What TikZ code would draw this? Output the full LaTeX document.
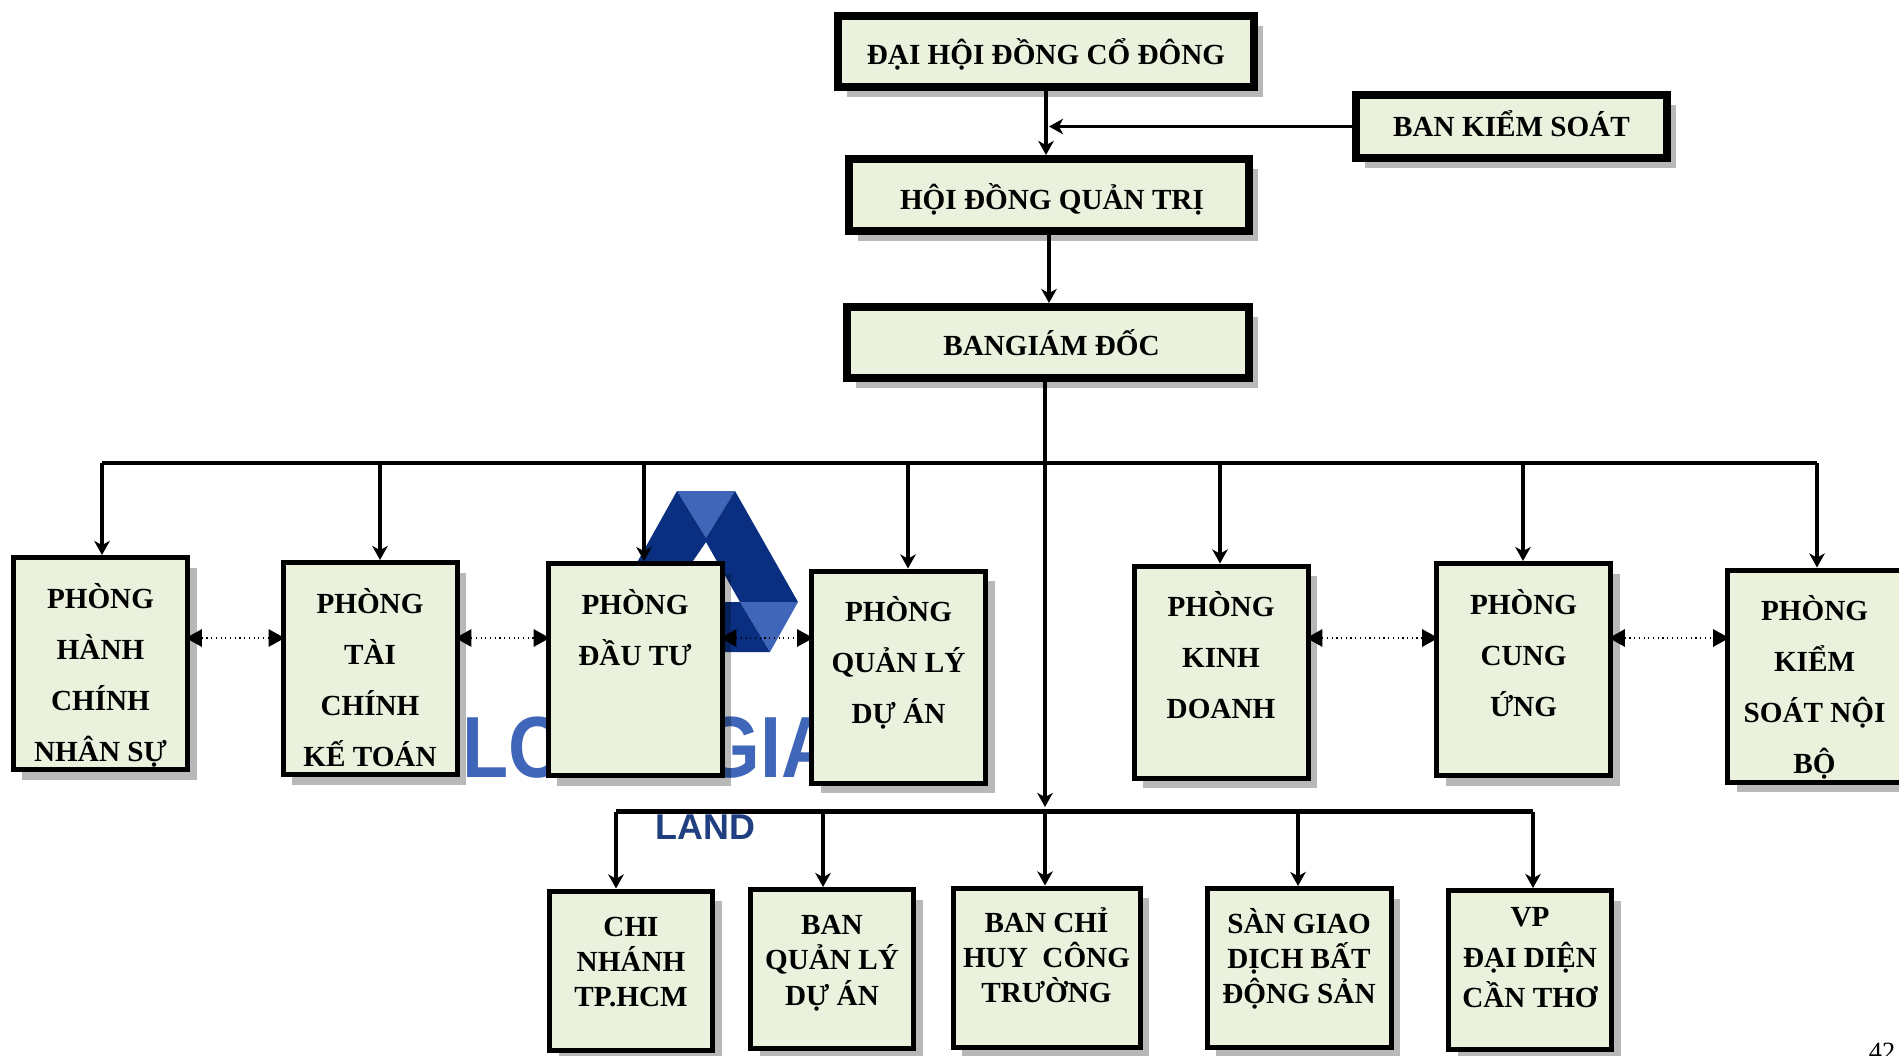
\documentclass[tikz,border=0pt]{standalone}
\usepackage{fontspec}
\setmainfont{Liberation Serif}
\newfontfamily\logofont{Liberation Sans}[FakeStretch=0.87]
\newfontfamily\landfont{Liberation Sans}
\usetikzlibrary{arrows.meta,shadows}
\definecolor{boxfill}{HTML}{EAF1DD}
\definecolor{logodark}{HTML}{0B2F80}
\definecolor{logolight}{HTML}{3F66B8}
\definecolor{logoland}{HTML}{1F3F80}

\begin{document}
\begin{tikzpicture}[font=\bfseries\fontsize{8.3}{14.5}\selectfont,>={Stealth[length=4pt,width=4.4pt,inset=1.2pt]},
basebox/.style={draw, fill=boxfill, align=center, inner sep=0pt, drop shadow={shadow xshift=0.09cm,shadow yshift=-0.10cm,fill=black,opacity=.28}},
topbox/.style={basebox, line width=0.08cm, text height=7.2pt, text depth=0pt},
deptbox/.style={basebox, line width=0.05cm, minimum width=1.74cm, minimum height=2.12cm, text height=57.9pt, text depth=2.4pt},
unitbox/.style={basebox, line width=0.05cm, minimum width=1.63cm, minimum height=1.59cm, font=\bfseries\fontsize{8.3}{10}\selectfont, execute at end node={\rule[-#1]{0pt}{0pt}}},
unitbox/.default=7pt,
bus/.style={line width=0.045cm},
drop/.style={->, line width=0.032cm},
link/.style={{Triangle[length=4.6pt,width=5pt]}-{Triangle[length=4.6pt,width=5pt]}, line width=0.012cm, densely dotted, shorten <=-1.2pt, shorten >=-1.2pt}]
\useasboundingbox (0,0) rectangle (18.99,10.55);
\fill[logolight] (6.77,5.64) -- (7.35,5.64) -- (7.06,5.17) -- cycle;
\fill[logodark] (6.77,5.64) -- (7.06,5.17) -- (7.06,5.13) -- (6.93,4.94) -- (6.38,4.94) -- (6.30,4.80) -- cycle;
\fill[logodark] (7.35,5.64) -- (7.98,4.53) -- (7.40,4.53) -- (7.06,5.13) -- (7.06,5.17) -- cycle;
\fill[logolight] (7.40,4.53) -- (7.98,4.53) -- (7.70,4.03) -- cycle;
\fill[logodark] (7.00,4.53) -- (7.40,4.53) -- (7.70,4.03) -- (7.00,4.03) -- cycle;
\node[anchor=base west, inner sep=0pt, text=logolight, font=\logofont\bfseries\fontsize{24.7}{24.7}\selectfont] (logoname) at (4.62,2.78) {LONG GIA};
\node[anchor=base west, inner sep=0pt, text=logoland, font=\landfont\bfseries\fontsize{10.2}{10.2}\selectfont] (logosub) at (6.55,2.16) {LAND};

\node[topbox, minimum width=4.16cm, minimum height=0.71cm, text height=7.6pt] (dhcd) at (10.46,10.035) {ĐẠI HỘI ĐỒNG CỔ ĐÔNG};
\node[topbox, minimum width=4.00cm, minimum height=0.72cm, text height=8.0pt] (hdqt) at (10.49,8.60) {\hspace{1.7pt}HỘI ĐỒNG QUẢN TRỊ};
\node[topbox, minimum width=4.02cm, minimum height=0.71cm] (bgd) at (10.48,7.125) {\hspace{2pt}BANGIÁM ĐỐC};
\node[topbox, minimum width=3.11cm, minimum height=0.63cm, text height=5.5pt] (bks) at (15.115,9.285) {BAN KIỂM SOÁT};

\node[deptbox] (hcns) at (1.005,3.915) {PHÒNG\\HÀNH\\CHÍNH\\NHÂN SỰ};
\node[deptbox] (tckt) at (3.70,3.865) {PHÒNG\\TÀI\\CHÍNH\\KẾ TOÁN};
\node[deptbox] (dautu) at (6.35,3.855) {PHÒNG\\ĐẦU TƯ\\~\\~};
\node[deptbox] (qlda) at (8.985,3.78) {PHÒNG\\QUẢN LÝ\\DỰ ÁN\\~};
\node[deptbox] (kd) at (12.21,3.83) {PHÒNG\\KINH\\DOANH\\~};
\node[deptbox] (cu) at (15.235,3.855) {PHÒNG\\CUNG\\ỨNG\\~};
\node[deptbox] (ksnb) at (18.145,3.79) {PHÒNG\\KIỂM\\SOÁT NỘI\\BỘ};

\node[unitbox=5pt] (cn) at (6.31,0.845) {CHI\\NHÁNH\\TP.HCM};
\node[unitbox=5pt] (bqlda) at (8.32,0.86) {BAN\\QUẢN LÝ\\DỰ ÁN};
\node[unitbox, minimum width=1.87cm] (bch) at (10.465,0.875) {BAN CHỈ\\HUY\ \ CÔNG\\TRƯỜNG};
\node[unitbox, minimum width=1.84cm] (sgd) at (12.99,0.87) {SÀN GIAO\\DỊCH BẤT\\ĐỘNG SẢN};
\node[unitbox] (vp) at (15.30,0.85) {VP\\[1.5pt]ĐẠI DIỆN\\[1.5pt]CẦN THƠ};

\node[anchor=base east, inner sep=0pt, font=\fontsize{7.5}{7.5}\selectfont] (pagenum) at (18.96,-0.055) {42};

\coordinate (trunktop) at (10.45,6.73);\coordinate (trunkend) at (10.45,2.48);
\coordinate (top1) at (1.02,5.92);\coordinate (top2) at (3.80,5.92);\coordinate (top3) at (6.44,5.92);\coordinate (top4) at (9.08,5.92);
\coordinate (top5) at (12.20,5.92);\coordinate (top6) at (15.23,5.92);\coordinate (top7) at (18.17,5.92);
\coordinate (low1) at (6.16,2.435);\coordinate (low2) at (8.23,2.435);\coordinate (low3) at (10.45,2.435);\coordinate (low4) at (12.98,2.435);\coordinate (low5) at (15.33,2.435);
\coordinate (linky) at (0,4.17);

\draw[drop] (dhcd.south) -- (dhcd.south |- hdqt.north);
\draw[drop] (bks.west) -- (bks.west -| hdqt.north);
\draw[drop] (hdqt.south) -- (hdqt.south |- bgd.north);
\draw[drop] (trunktop) -- (trunkend);
\draw[bus] (top1) -- (top7);\draw[bus] (low1) -- (low5);
\draw[drop] (top1) -- (top1 |- hcns.north);\draw[drop] (top2) -- (top2 |- tckt.north);\draw[drop] (top3) -- (top3 |- dautu.north);\draw[drop] (top4) -- (top4 |- qlda.north);
\draw[drop] (top5) -- (top5 |- kd.north);\draw[drop] (top6) -- (top6 |- cu.north);\draw[drop] (top7) -- (top7 |- ksnb.north);
\draw[drop] (low1) -- (low1 |- cn.north);\draw[drop] (low2) -- (low2 |- bqlda.north);\draw[drop] (low3) -- (low3 |- bch.north);\draw[drop] (low4) -- (low4 |- sgd.north);\draw[drop] (low5) -- (low5 |- vp.north);
\draw[link] (hcns.east |- linky) -- (tckt.west |- linky);\draw[link] (tckt.east |- linky) -- (dautu.west |- linky);\draw[link] (dautu.east |- linky) -- (qlda.west |- linky);
\draw[link] (kd.east |- linky) -- (cu.west |- linky);\draw[link] (cu.east |- linky) -- (ksnb.west |- linky);
\end{tikzpicture}
\end{document}
